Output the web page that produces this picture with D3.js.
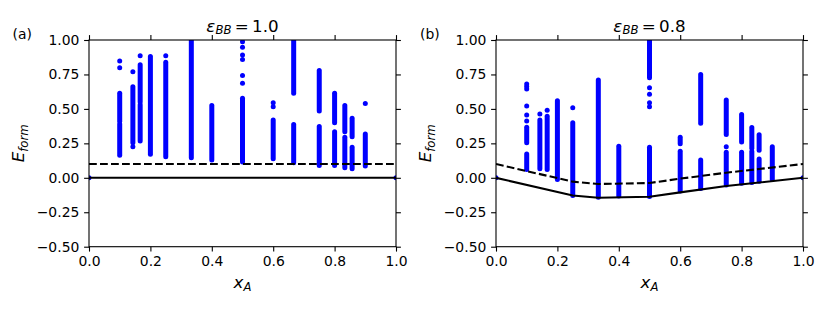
<!DOCTYPE html>
<html><head><meta charset="utf-8">
<script src="https://cdn.jsdelivr.net/npm/d3@7"></script>
<style>body{margin:0;background:#fff} svg{display:block} text{font-family:"DejaVu Sans",sans-serif;fill:#000}</style>
</head><body><svg id="c" width="830" height="312"></svg>
<script>
const xTicks = [0, 0.2, 0.4, 0.6, 0.8, 1.0];
const yTicks = [-0.5, -0.25, 0, 0.25, 0.5, 0.75, 1.0];
const panelLabels = ["(a)", "(b)"];
const titleValues = ["1.0", "0.8"];

// Panel (a): dense columns of structures [xA, top, bottom] and isolated points [xA, E]
const colsA = [
  [0.1, 0.613, 0.41], [0.1, 0.39, 0.163], [0.1429, 0.66, 0.255], [0.1667, 0.82, 0.55], [0.1667, 0.53, 0.267],
  [0.2, 0.88, 0.17], [0.25, 0.838, 0.153], [0.3333, 1.05, 0.146], [0.4, 0.524, 0.129],
  [0.5, 0.577, 0.115], [0.6, 0.42, 0.139], [0.6667, 1.05, 0.613], [0.6667, 0.386, 0.11],
  [0.75, 0.778, 0.485], [0.75, 0.372, 0.09], [0.8, 0.613, 0.40], [0.8, 0.335, 0.09],
  [0.8333, 0.524, 0.335], [0.8333, 0.294, 0.073], [0.8571, 0.432, 0.298], [0.8571, 0.221, 0.066],
  [0.9, 0.318, 0.086]
];
const dotsA = [
  [0.1, 0.848], [0.1, 0.799], [0.1429, 0.77], [0.1429, 0.226], [0.1667, 0.886], [0.25, 0.886],
  [0.5, 0.988], [0.5, 0.948], [0.5, 0.891], [0.5, 0.858], [0.5, 0.743], [0.5, 0.686],
  [0.6, 0.545], [0.6, 0.516], [0.9, 0.54], [0, 0], [1, 0]
];
const hullA_x = [0, 1], hullA_y = [0, 0];
const tolA_x = [0, 1], tolA_y = [0.1, 0.1];

// Panel (b)
const colsB = [
  [0.1, 0.366, 0.255], [0.1, 0.173, 0.061], [0.1429, 0.42, 0.066], [0.1667, 0.446, 0.061],
  [0.2, 0.56, -0.012], [0.25, 0.40, -0.128], [0.3333, 0.71, -0.142], [0.4, 0.229, -0.132],
  [0.5, 1.05, 0.726], [0.5, 0.221, -0.135], [0.6, 0.294, 0.247], [0.6, 0.192, -0.095],
  [0.6667, 0.749, 0.395], [0.6667, 0.129, -0.078], [0.75, 0.565, 0.315], [0.75, 0.185, -0.052],
  [0.8, 0.459, 0.26], [0.8, 0.185, -0.04], [0.8333, 0.365, 0.215], [0.8333, 0.19, -0.035],
  [0.8571, 0.313, 0.20], [0.8571, 0.136, -0.025], [0.9, 0.226, -0.01]
];
const dotsB = [
  [0.1, 0.68], [0.1, 0.662], [0.1, 0.645], [0.1, 0.521], [0.1, 0.456], [0.1, 0.412],
  [0.1429, 0.463], [0.1667, 0.49], [0.25, 0.509], [0.5, 0.654], [0.5, 0.606], [0.5, 0.545],
  [0.5, 0.516], [0.75, 0.226], [0, 0], [1, 0]
];
const hullB_x = [0, 0.25, 0.3333, 0.5, 0.6, 0.75, 1];
const hullB_y = [0, -0.128, -0.145, -0.138, -0.106, -0.06, 0];
const tolB_x = [0, 0.25, 0.3333, 0.5, 0.6, 0.75, 1];
const tolB_y = [0.1, -0.028, -0.045, -0.038, -0.006, 0.037, 0.1];

const panels = [
  {x0: 89, cols: colsA, dots: dotsA, hx: hullA_x, hy: hullA_y, tx: tolA_x, ty: tolA_y, lab: panelLabels[0], labX: 12.5, ylabX: 24, title: titleValues[0]},
  {x0: 496, cols: colsB, dots: dotsB, hx: hullB_x, hy: hullB_y, tx: tolB_x, ty: tolB_y, lab: panelLabels[1], labX: 420, ylabX: 431, title: titleValues[1]}
];
const W = 307, yTop = 40, yBot = 246.7;
const R = 2.5, blue = "#0000ff";
const svg = d3.select("#c");

panels.forEach((p, i) => {
  const x = d3.scaleLinear().domain([0, 1]).range([p.x0, p.x0 + W]);
  const y = d3.scaleLinear().domain([-0.5, 1.0]).range([yBot, yTop]);
  const g = svg.append("g");
  const cid = "clip" + i;
  svg.append("defs").append("clipPath").attr("id", cid).append("rect")
    .attr("x", p.x0).attr("y", yTop).attr("width", W).attr("height", yBot - yTop);
  const pg = g.append("g").attr("clip-path", `url(#${cid})`);
  pg.selectAll("line.col").data(p.cols).join("line").attr("class", "col")
    .attr("x1", d => x(d[0])).attr("x2", d => x(d[0]))
    .attr("y1", d => y(d[1])).attr("y2", d => y(d[2]))
    .attr("stroke", blue).attr("stroke-width", 2 * R).attr("stroke-linecap", "round");
  pg.selectAll("circle").data(p.dots).join("circle")
    .attr("cx", d => x(d[0])).attr("cy", d => y(d[1])).attr("r", R).attr("fill", blue);
  const line = d3.line().x(d => x(d[0])).y(d => y(d[1]));
  pg.append("path").attr("d", line(p.tx.map((v, k) => [v, p.ty[k]])))
    .attr("fill", "none").attr("stroke", "#000").attr("stroke-width", 2.1).attr("stroke-dasharray", "7.8,3.2");
  pg.append("path").attr("d", line(p.hx.map((v, k) => [v, p.hy[k]])))
    .attr("fill", "none").attr("stroke", "#000").attr("stroke-width", 2.1);

  // axes
  const tl = 4.9;
  const ax = g.append("g");
  const fmtX = d3.format(".1f");
  const fmtY = v => d3.format(".2f")(v).replace("-", "\u2212");
  const bottomAx = d3.axisBottom(x).tickValues(xTicks).tickFormat(fmtX).tickSizeInner(tl).tickSizeOuter(0).tickPadding(4.8);
  const topAx = d3.axisTop(x).tickValues(xTicks).tickFormat("").tickSizeInner(tl).tickSizeOuter(0);
  const leftAx = d3.axisLeft(y).tickValues(yTicks).tickFormat(fmtY).tickSizeInner(tl).tickSizeOuter(0).tickPadding(4.8);
  const rightAx = d3.axisRight(y).tickValues(yTicks).tickFormat("").tickSizeInner(tl).tickSizeOuter(0);
  [[bottomAx, `translate(0,${yBot})`], [topAx, `translate(0,${yTop})`], [leftAx, `translate(${p.x0},0)`], [rightAx, `translate(${p.x0 + W},0)`]]
    .forEach(([a, t]) => {
      const gg = ax.append("g").attr("transform", t).call(a);
      gg.select(".domain").remove();
      gg.selectAll(".tick line").attr("stroke", "#000").attr("stroke-width", 1.1);
      gg.selectAll(".tick text").style("font-family", "DejaVu Sans").attr("font-size", 13.9).attr("fill", "#000");
    });
  ax.append("rect").attr("x", p.x0).attr("y", yTop).attr("width", W).attr("height", yBot - yTop)
    .attr("fill", "none").attr("stroke", "#000").attr("stroke-width", 1.1);

  // panel label
  g.append("text").attr("x", p.labX).attr("y", 38.5).attr("font-size", 13.9).text(p.lab);
  // title
  const t = g.append("text").attr("x", p.x0 + W / 2).attr("y", 31.5).attr("text-anchor", "middle").attr("font-size", 16.7);
  t.append("tspan").attr("font-style", "italic").text("\u03B5");
  t.append("tspan").attr("font-style", "italic").attr("font-size", 11.7).attr("dy", 2.5).text("BB");
  t.append("tspan").attr("dy", -2.5).text("\u2009=\u2009" + p.title);
  // x label
  const xl = g.append("text").attr("x", p.x0 + W / 2).attr("y", 287.5).attr("text-anchor", "middle").attr("font-size", 16.7);
  xl.append("tspan").attr("font-style", "italic").text("x");
  xl.append("tspan").attr("font-style", "italic").attr("font-size", 11.7).attr("dy", 3.5).text("A");
  // y label
  const yl = g.append("text").attr("transform", `translate(${p.ylabX},${(yTop + yBot) / 2}) rotate(-90)`)
    .attr("text-anchor", "middle").attr("font-size", 16.7);
  yl.append("tspan").attr("font-style", "italic").text("E");
  yl.append("tspan").attr("font-style", "italic").attr("font-size", 11.7).attr("dy", 3.5).text("form");
});
</script></body></html>
